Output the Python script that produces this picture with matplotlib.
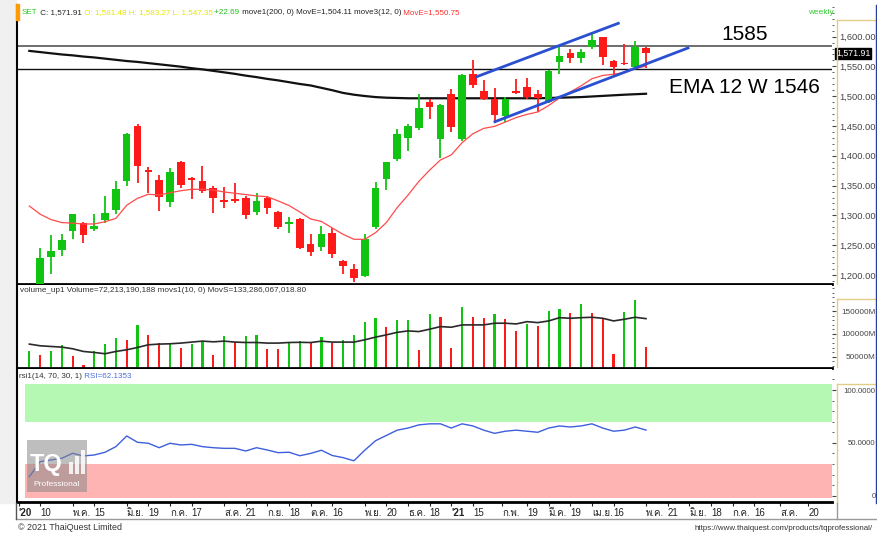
import matplotlib
matplotlib.use('Agg')
import numpy as np
import matplotlib.pyplot as plt
from matplotlib import font_manager
from matplotlib.ft2font import FT2Font
from matplotlib.lines import Line2D
from matplotlib.patches import Rectangle
from matplotlib.ticker import MultipleLocator

# SET index, weekly candles; week 0 = 3 Apr 2020
opens = [1105, 1130, 1231, 1242, 1273, 1287, 1277, 1292, 1309, 1358,
         1450, 1374, 1359.5, 1322, 1390, 1361, 1358, 1346.6, 1324.7, 1327.5,
         1329.7, 1306.2, 1328.6, 1306.2, 1286, 1293.9, 1251.3, 1246.3, 1270.9, 1223.8,
         1210.9, 1198.7, 1281, 1361, 1394, 1430, 1446, 1490.8, 1429, 1503.7,
         1429, 1538, 1509, 1496, 1466, 1508.7, 1516, 1503.7, 1491, 1558,
         1572, 1563.5, 1582, 1598.7, 1559.6, 1555, 1549.6, 1581.48]
highs = [1140, 1245, 1267, 1268, 1302, 1289, 1303, 1333, 1358, 1438,
         1454, 1382, 1368, 1380, 1391, 1364, 1383, 1350, 1347, 1355,
         1332.6, 1338.2, 1332.6, 1307.3, 1296.6, 1295, 1268.1, 1282.1, 1279.3, 1226,
         1217.7, 1268.7, 1356.5, 1390, 1445, 1453, 1504, 1494.7, 1487, 1511.6,
         1537, 1561, 1528, 1513, 1498, 1528.3, 1530, 1510.5, 1544, 1583,
         1580, 1580, 1605.5, 1600, 1560.7, 1587.6, 1592.6, 1583.27]
lows = [1085, 1125, 1202, 1232, 1260, 1254, 1273, 1287, 1303, 1350,
        1355, 1338, 1308, 1313.6, 1346.5, 1327, 1338, 1303.5, 1311.7, 1321.4,
        1293.3, 1300.6, 1302.3, 1276.5, 1270.9, 1243, 1231.7, 1240.7, 1227.7, 1202.5,
        1188.6, 1196, 1276.5, 1342.6, 1392, 1408, 1443, 1461.2, 1396, 1440.5,
        1425, 1513, 1493, 1455.6, 1457, 1503.7, 1494.7, 1474, 1489, 1537,
        1555, 1555, 1580, 1552.3, 1531.7, 1552, 1548, 1547.35]
closes = [1123, 1229, 1240, 1259, 1302, 1267, 1282, 1303.5, 1344, 1436,
          1383, 1372.7, 1331.5, 1373, 1351, 1359.5, 1341.6, 1330, 1323, 1324.7,
          1300.6, 1324.1, 1311.8, 1281, 1287.7, 1244.6, 1239, 1268.1, 1235.1, 1214.9,
          1195.8, 1259.7, 1346.5, 1389, 1436, 1450, 1481, 1482.4, 1486, 1447.8,
          1535.6, 1519, 1495, 1468.5, 1496, 1506, 1499, 1496.4, 1543, 1567,
          1563.5, 1573.6, 1595, 1565.2, 1548.4, 1553.4, 1582, 1571.91]
ema12 = [1315.8, 1302, 1293, 1288, 1287, 1285.6, 1285.6, 1289.4, 1295, 1317,
         1328.7, 1335.4, 1334.2, 1338, 1341.4, 1343.8, 1343.8, 1342.6, 1339.3, 1337.1,
         1335, 1332.6, 1331.4, 1324.2, 1316.6, 1305.7, 1294, 1289.8, 1278.9, 1268.3,
         1259.9, 1259.9, 1271, 1288, 1313, 1334, 1357, 1376, 1393, 1401.5,
         1422, 1437, 1446, 1449.4, 1456.6, 1464.2, 1469.5, 1473.6, 1484.3, 1497,
         1507.2, 1517.4, 1529.3, 1534.8, 1536.9, 1539.4, 1546, 1550.75]
ema200 = [1576, 1574, 1572, 1570, 1568.5, 1566.5, 1565, 1563, 1561, 1559,
          1557.5, 1555.5, 1553.5, 1551.5, 1549.5, 1547, 1545, 1542.5, 1540, 1537.5,
          1534.5, 1532, 1529, 1526.5, 1523.5, 1520.5, 1518, 1514, 1510, 1505.5,
          1502.5, 1500.3, 1498.5, 1497.5, 1497, 1496.5, 1496.5, 1496.5, 1496.5, 1496.5,
          1496.5, 1496.5, 1496.5, 1496.5, 1496.5, 1496.5, 1496.5, 1496.5, 1497, 1497.5,
          1498, 1498.5, 1499.5, 1500.5, 1501.5, 1502.5, 1503.3, 1504.11]
# volume in million baht and its 10-week average
volume = [63000, 54300, 63000, 76000, 52200, 32600, 63000, 77600, 90600, 87000,
          119600, 97800, 79800, 80500, 68900, 78300, 81100, 54300, 95700, 81100,
          95700, 96500, 67400, 67000, 79800, 84800, 79800, 94200, 79800, 87000,
          97800, 126000, 135400, 114500, 130400, 131000, 65200, 143500, 136300, 68000,
          158700, 136300, 134100, 143500, 132600, 105900, 121100, 117400, 150700, 154300,
          145000, 164600, 145000, 132600, 56500, 147200, 173900, 72213]
vol_ma10 = [77600, 73900, 72400, 71000, 67400, 61500, 59300, 56500, 61500, 65200,
            70200, 76100, 77600, 78300, 79800, 82000, 84100, 82600, 84100, 82000,
            81100, 81100, 79800, 79800, 81100, 81500, 81000, 84000, 82000, 82000,
            82000, 87000, 92800, 97800, 103300, 106500, 105000, 110200, 115900, 114500,
            119600, 119600, 119600, 123300, 123300, 121700, 126700, 124600, 128300, 135400,
            134100, 135400, 136300, 134100, 128300, 132000, 136300, 133286]
rsi = [18.0, 32.2, 33.8, 35.4, 40.1, 37.6, 38.5, 41.1, 46.4, 56.5,
       50.5, 49.6, 45.4, 49.6, 48.0, 48.6, 46.4, 45.4, 44.8, 44.8,
       42.3, 45.4, 43.2, 40.7, 41.1, 37.8, 40, 43, 38, 36,
       33, 43, 52, 57, 62, 64, 67, 68, 68, 64,
       68, 66, 62, 59, 61, 62, 61, 60, 64, 66,
       65, 66, 68, 64, 61, 62, 65, 62.1]

# hand-drawn channel (week index, price)
upper_x = [41.35, 54.44]
upper_y = [1532.7, 1622.3]
lower_x = [43.04, 60.88]
lower_y = [1457.2, 1580.9]

tick_pos = [-1, 1, 4, 6, 9, 11, 13, 15, 18, 20, 22, 24, 26, 28, 31, 33, 35, 37,
            39, 41, 43.7, 46, 48, 50, 52, 54, 57, 59, 61, 63, 65, 67, 69.4, 72]
tick_lbl = ["'20", '10', 'พ.ค.', '15', 'มิ.ย.', '19', 'ก.ค.', '17', 'ส.ค.', '21',
            'ก.ย.', '18', 'ต.ค.', '16', 'พ.ย.', '20', 'ธ.ค.', '18',
            "'21", '15', 'ก.พ.', '19', 'มี.ค.', '19', 'เม.ย.', '16', 'พ.ค.', '21',
            'มิ.ย.', '18', 'ก.ค.', '16', 'ส.ค.', '20']


def find_thai_font():
    for f in font_manager.fontManager.ttflist:
        try:
            if 0x0E01 in FT2Font(f.fname).get_charmap():
                return f.name
        except Exception:
            continue
    return None


FAM = ['Liberation Sans', 'DejaVu Sans']
thai = find_thai_font()
if thai:
    FAM = FAM + [thai]
plt.rcParams['font.family'] = FAM

GREEN = '#12c412'
RED = '#ff1a1a'
W, H = 878, 536

fig = plt.figure(figsize=(W / 100, H / 100), dpi=100)


def fx(p):
    return p / W


def fy(p):
    return 1 - p / H


def panel(top, bottom):
    return fig.add_axes([fx(17), fy(bottom), fx(832 - 17), (bottom - top) / H])


def fline(x0, x1, y0, y1, color, lw=1):
    fig.add_artist(Line2D([fx(x0), fx(x1)], [fy(y0), fy(y1)], color=color, lw=lw,
                          transform=fig.transFigure))


# grey strip on the left
fig.add_artist(Rectangle((0, fy(503)), fx(16), 503 / H, color='#f0f0f0',
                         transform=fig.transFigure, zorder=0))

ax_p = panel(5, 284)
ax_v = panel(285, 368)
ax_r = panel(369, 502)

idx = np.arange(len(closes))
for ax, lsize in ((ax_p, 6.7), (ax_v, 5.9), (ax_r, 5.6)):
    ax.set_xlim(-1.14, 74.19)
    for s in ('top', 'right'):
        ax.spines[s].set_visible(False)
    ax.spines['left'].set_linewidth(1.5)
    ax.spines['bottom'].set_linewidth(2)
    ax.tick_params(axis='y', which='both', left=False, labelleft=False, right=True,
                   labelright=True, direction='out', colors='#444444', labelsize=lsize,
                   length=3, pad=28.5)
    ax.tick_params(axis='y', which='minor', length=1.5)
    ax.tick_params(axis='x', which='both', bottom=False, labelbottom=False)

# ---- price panel
ax_p.set_ylim(1184.9, 1653)
pt = np.arange(1200, 1601, 50)
ax_p.set_yticks(pt, [f'{v:,.2f}' for v in pt], ha='right')
ax_p.yaxis.set_minor_locator(MultipleLocator(10))

cols = [GREEN if c >= o else RED for o, c in zip(opens, closes)]
ax_p.vlines(idx, lows, highs, colors=cols, lw=1.3, zorder=3)
body = [max(abs(c - o), 3) for o, c in zip(opens, closes)]
ax_p.bar(idx, body, bottom=np.minimum(opens, closes), width=0.7, color=cols, zorder=4)
ax_p.plot(idx, ema12, color='#ff4a4a', lw=0.9, zorder=5)
ax_p.plot(idx, ema200, color='#111111', lw=1.6, zorder=2)
ax_p.axhline(1585, color='#555555', lw=1.2, zorder=1)
ax_p.axhline(1546, color='#111111', lw=1.0, zorder=1)
ax_p.plot(upper_x, upper_y, color='#2a4fd0', lw=2, zorder=6)
ax_p.plot(lower_x, lower_y, color='#2a4fd0', lw=2, zorder=6)
ax_p.text(66.1, 1602.7, '1585', fontsize=15, ha='center', va='center')
ax_p.text(66.1, 1513.8, 'EMA 12 W 1546', fontsize=15, ha='center', va='center')
ax_p.text(1.0258, closes[-1], f'{closes[-1]:,.2f}', transform=ax_p.get_yaxis_transform(),
          ha='center', va='center', color='white', fontsize=6.3,
          bbox=dict(boxstyle='square,pad=0.12', fc='black', ec='black'), zorder=10,
          clip_on=False)

# ---- volume panel
ax_v.set_ylim(25300, 206900)
vt = [50000, 100000, 150000]
ax_v.set_yticks(vt, [f'{v}M' for v in vt], ha='right')
ax_v.yaxis.set_minor_locator(MultipleLocator(10000))
vcol = [GREEN] + [GREEN if v >= p else RED for p, v in zip(volume[:-1], volume[1:])]
ax_v.bar(idx, volume, width=0.2, color=vcol, bottom=0)
ax_v.plot(idx, vol_ma10, color='#2a2a2a', lw=1.2)
ax_v.text(0.004, 0.93, 'volume_up1 Volume=72,213,190,188 movs1(10, 0) MovS=133,286,067,018.80',
          transform=ax_v.transAxes, fontsize=5.9, color='#333333', va='center')

# ---- RSI panel
ax_r.set_ylim(-6, 119.9)
ax_r.set_yticks([0, 50, 100], ['0', '50.0000', '100.0000'], ha='right')
ax_r.yaxis.set_minor_locator(MultipleLocator(10))
ax_r.axhspan(70, 105.5, xmin=(25 - 17) / 815, color='#b4f8b4', lw=0, zorder=0)
ax_r.axhspan(-2.5, 30, xmin=(25 - 17) / 815, color='#ffb4b4', lw=0, zorder=0)
ax_r.plot(idx, rsi, color='#3d5fdc', lw=1)
t = ax_r.text(0.003, 0.94, 'rsi1(14, 70, 30, 1)', transform=ax_r.transAxes, fontsize=5.8,
              color='#333333', va='center')
ax_r.annotate(' RSI=62.1353', xy=(1, 0), xycoords=t, va='bottom', fontsize=5.8,
              color='#4a6ee0')

ax_r.tick_params(axis='x', bottom=True, labelbottom=True, direction='out', length=3,
                 labelsize=7, colors='#222222', pad=1)
ax_r.set_xticks(tick_pos, tick_lbl, ha='left')
for lab in ax_r.get_xticklabels():
    if lab.get_text().startswith("'"):
        lab.set_fontweight('bold')

# watermark
ax_r.add_patch(Rectangle((10 / 815, 10 / 133), 60 / 815, 52 / 133, transform=ax_r.transAxes,
                         color='#8a8a8a', alpha=0.55, lw=0, zorder=7))
ax_r.text(13 / 815, 38 / 133, 'TQ', transform=ax_r.transAxes, fontsize=17,
          fontweight='bold', color='white', ha='left', va='center', zorder=8)
for k, hgt in enumerate((12, 18, 24)):
    ax_r.add_patch(Rectangle(((52 + 6 * k) / 815, 28 / 133), 4 / 815, hgt / 133,
                             transform=ax_r.transAxes, color='white', alpha=0.85,
                             lw=0, zorder=8))
ax_r.text(40 / 815, 17 / 133, 'Professional', transform=ax_r.transAxes, fontsize=6,
          color='white', ha='center', va='center', zorder=8)

# label boxes on the right
for top, bot in ((20, 284), (299, 367), (384, 503)):
    fline(837, 837, top, bot, '#e2cd86')
    fline(837, 876, top, top, '#e2cd86')
fline(876, 876, 5, 503, '#2a3f9a')
fline(16, 878, 519, 519, '#9a9a9a')
fline(16, 16, 503, 519, '#555555')
fline(837, 837, 503, 519, '#9a9a9a')

# header line
fig.add_artist(Rectangle((fx(16), fy(20)), fx(3), 16 / H, color='#ff9a00',
                         transform=fig.transFigure))
parts = [('SET', '#22cc22'), (' C: 1,571.91', '#222222'),
         (' O: 1,581.48 H: 1,583.27 L: 1,547.35', '#e6e600'), (' +22.69', '#22bb22'),
         (' move1(200, 0) MovE=1,504.11 move3(12, 0)', '#222222'),
         (' MovE=1,550.75', '#ff3030')]
prev = fig.text(fx(22), fy(16), parts[0][0], color=parts[0][1], fontsize=5.8,
                va='bottom')
for s, c in parts[1:]:
    prev = ax_p.annotate(s, xy=(1, 0), xycoords=prev, va='bottom', color=c,
                         fontsize=5.8, annotation_clip=False)
fig.text(fx(808), fy(12), 'weekly', color='#33cc33', fontsize=6, va='center')

fig.text(fx(18), fy(528), '© 2021 ThaiQuest Limited', fontsize=6.4, color='#333333',
         va='center')
fig.text(fx(873), fy(528), 'https://www.thaiquest.com/products/tqprofessional/',
         fontsize=5.7, color='#333333', va='center', ha='right')

fig.savefig('out.png', dpi=100)
